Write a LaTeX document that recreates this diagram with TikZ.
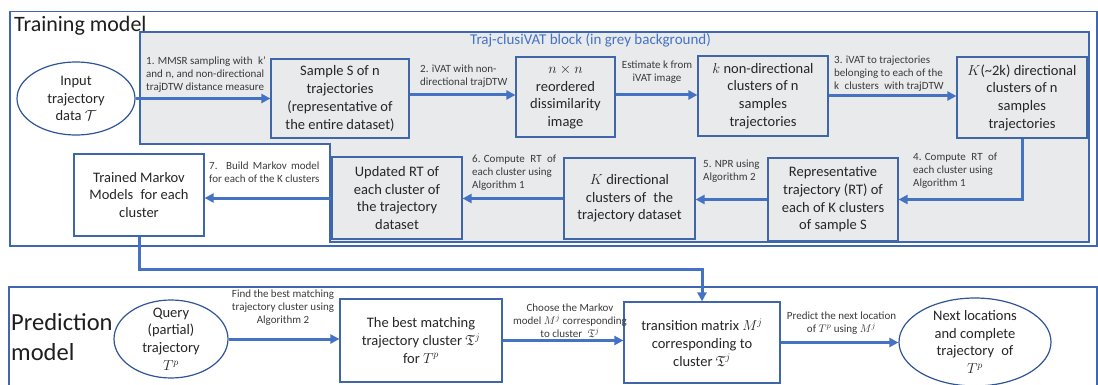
\documentclass[tikz,border=0pt]{standalone}
\usepackage{fontspec}
\setmainfont{Carlito}
\usepackage{amssymb}
\usepackage{calc}
\usetikzlibrary{arrows.meta,shapes.geometric}

\definecolor{frameblue}{HTML}{3F67B1}
\definecolor{boxblue}{HTML}{3E66A8}
\definecolor{ovalblue}{HTML}{2F5597}
\definecolor{arrowblue}{HTML}{4472C4}
\definecolor{blockgrey}{HTML}{E8EAEB}
\definecolor{bodytext}{HTML}{262626}
\definecolor{labeltext}{HTML}{3A3A3A}

\newcommand\boxfont{\fontsize{14.5}{17.7}\selectfont}
\newcommand\notefont{\fontsize{11}{13}\selectfont}
\newcommand\headfont{\fontsize{22}{27}\selectfont}
\newcommand\predfont{\fontsize{24.5}{30}\selectfont}

\begin{document}
\begin{tikzpicture}[x=1pt,y=-1pt,
  stepbox/.style={draw=boxblue, line width=1.2pt, fill=blockgrey, text=bodytext,
    align=center, inner sep=0pt, font=\boxfont},
  whitebox/.style={stepbox, fill=white},
  oval/.style={ellipse, draw=ovalblue, line width=1.2pt, fill=white, text=bodytext,
    align=center, inner sep=-30pt, font=\boxfont},
  flow/.style={draw=arrowblue, line width=3pt, -{Triangle[length=9pt,width=9pt]}},
  note/.style={text=labeltext, font=\notefont, inner sep=0pt},
  frame/.style={draw=frameblue, line width=1.5pt}]

\useasboundingbox (0,0) rectangle (1098,385);
\clip (0,0) rectangle (1098,385);

% outer frames
\draw[frame] (10,11.5) rectangle (1097,246);
\draw[frame] (9,287) rectangle (1097,400);

% grey Traj-clusiVAT block
\draw[frame, line width=1.3pt, fill=blockgrey]
  (140,32) -- (1089,32) -- (1089,242) -- (330,242) -- (330,144) -- (140,144) -- cycle;

% titles
\node[font=\headfont, text=bodytext!80!black, anchor=base west, inner sep=0pt] (trainlbl) at (14,32) {Training model};
\node[font=\predfont, text=bodytext!80!black, anchor=base west, inner sep=0pt] (predlbl) at (11,330) {Prediction};
\node[font=\predfont, text=bodytext!80!black, anchor=base west, inner sep=0pt] (predlbl2) at (11,360) {model};
\node[font=\fontsize{15}{18}\selectfont, text=arrowblue, inner sep=0pt] (blocklbl) at (590.5,40) {Traj-clusiVAT block (in grey background)};

% training stage
\node[oval, minimum width=118pt, minimum height=73pt] (inp) at (76,98.5) {Input\\trajectory\\data $\mathcal{T}$};
\node[stepbox, minimum width=138pt, minimum height=79pt] (smp) at (340,98.5) {Sample S of n\\trajectories\\(representative of\\the entire dataset)};
\node[stepbox, minimum width=99pt, minimum height=80pt] (nxn) at (565.5,97) {$n\times n$\\reordered\\dissimilarity\\image};
\node[stepbox, minimum width=130pt, minimum height=80pt] (kcl) at (763,96) {$k$ non-directional\\clusters of n\\samples\\trajectories};
\node[stepbox, minimum width=130pt, minimum height=81pt] (Kcl) at (1022,97.5) {$K$(\textasciitilde 2k) directional\\clusters of n\\samples\\trajectories};
\node[stepbox, minimum width=130pt, minimum height=83pt] (rep) at (833,199.5) {Representative\\trajectory (RT) of\\each of K clusters\\of sample S};
\node[stepbox, minimum width=131pt, minimum height=81pt] (kdir) at (629.5,198.5) {$K$ directional\\clusters of\enspace the\\trajectory dataset};
\node[stepbox, minimum width=130pt, minimum height=82pt] (upd) at (397,198) {Updated RT of\\each cluster of\\the trajectory\\dataset};
\node[whitebox, minimum width=130pt, minimum height=82pt] (trn) at (139,195) {Trained Markov\\Models\enspace for each\\cluster};

% prediction stage
\node[oval, minimum width=114pt, minimum height=78pt] (qry) at (171,339) {Query\\(partial)\\trajectory\\$T^p$};
\node[whitebox, minimum width=162pt, minimum height=83pt] (best) at (421,340.5) {The best matching\\trajectory cluster $\mathfrak{T}^j$\\for $T^p$};
\node[whitebox, minimum width=156pt, minimum height=81pt] (trans) at (702,342.5) {transition matrix $M^j$\\corresponding to\\cluster $\mathfrak{T}^j$};
\node[oval, minimum width=152pt, minimum height=88pt] (nxt) at (975,342) {Next locations\\and complete\\trajectory\enspace of\\$T^p$};

% connectors
\draw[flow] (inp.east) -- (inp.east -| smp.west);
\draw[flow] ([yshift=3.5pt]smp.east) -- ([yshift=3.5pt]smp.east -| nxn.west);
\draw[flow] ([yshift=2pt]nxn.east) -- ([yshift=2pt]nxn.east -| kcl.west);
\draw[flow] (kcl.east) -- (kcl.east -| Kcl.west);
\draw[flow] (Kcl.south) |- (rep.east);
\draw[flow] (rep.west) -- (rep.west -| kdir.east);
\draw[flow] (kdir.west) -- (kdir.west -| upd.east);
\draw[flow] (upd.west) -- (upd.west -| trn.east);
\coordinate (turn) at (0,269);
\draw[flow] (trn.south) |- (turn -| trans.north) -- (trans.north);
\draw[flow] (qry.east) -- (qry.east -| best.west);
\draw[flow] (best.east) -- (best.east -| trans.west);
\draw[flow] (trans.east) -- (trans.east -| nxt.west);

% connector labels
\node[note, anchor=west, align=left] (l1) at (146,74.5) {1. MMSR sampling with\enspace k’\\and n, and non-directional\\trajDTW distance measure};
\node[note, anchor=west, align=left] (l2) at (420,76) {2. iVAT with non-\\directional trajDTW};
\node[note, align=center] (l3) at (657,72.5) {Estimate k from\\iVAT image};
\node[note, anchor=west, align=left] (l4) at (834,74) {3. iVAT to trajectories\\belonging to each of the\\k\enspace clusters\enspace with trajDTW};
\node[note, anchor=west, align=left] (l5) at (913,170.5) {4. Compute\enspace RT\enspace of\\each cluster using\\Algorithm 1};
\node[note, anchor=west, align=left] (l6) at (703,171.5) {5. NPR using\\Algorithm 2};
\node[note, anchor=west, align=left] (l7) at (472,173) {6. Compute\enspace RT\enspace of\\each cluster using\\Algorithm 1};
\node[note, anchor=west, align=left] (l8) at (209,172) {\makebox[\widthof{for each of the K clusters}][s]{7. Build Markov model}\\for each of the K clusters};
\node[note, align=center] (l9) at (283,307.5) {Find the best matching\\trajectory cluster using\\Algorithm 2};
\node[note, align=center] (l10) at (570,321) {Choose the Markov\\model $M^j$ corresponding\\to cluster\enspace $\mathfrak{T}^j$};
\node[note, align=center] (l11) at (841.5,323) {Predict the next location\\of $T^p$ using $M^j$};
\end{tikzpicture}
\end{document}
